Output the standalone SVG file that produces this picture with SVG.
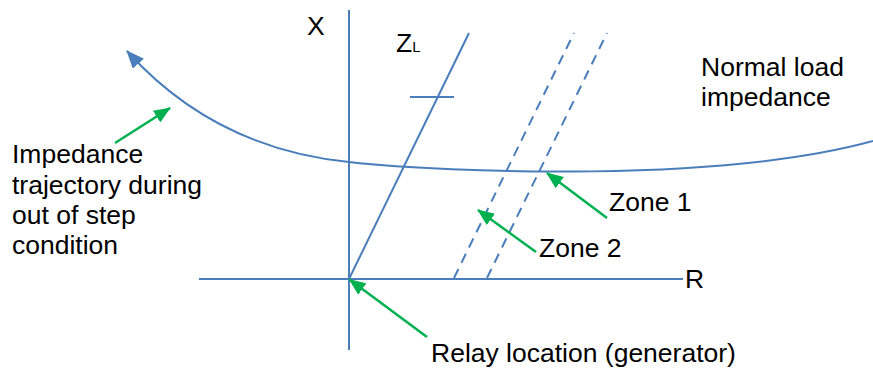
<svg xmlns="http://www.w3.org/2000/svg" width="873" height="370" viewBox="0 0 873 370">
<style>
.ax{stroke:#4A7EBB;stroke-width:2;fill:none}
.dash{stroke:#4A7EBB;stroke-width:2;fill:none;stroke-dasharray:10 7}
.g{stroke:#00B050;stroke-width:2.5;fill:none}
text{font-family:"Liberation Sans",Arial,sans-serif;font-size:26.5px;fill:#000}
</style>
<defs>
<marker id="bh" markerUnits="userSpaceOnUse" viewBox="0 0 18 15" refX="17" refY="7.5" markerWidth="18" markerHeight="15" orient="auto">
<path d="M0,0 L18,7.5 L0,15 z" fill="#4A7EBB"/>
</marker>
<marker id="gh" markerUnits="userSpaceOnUse" viewBox="0 0 17 14" refX="16" refY="7" markerWidth="17" markerHeight="14" orient="auto">
<path d="M0,0 L17,7 L0,14 z" fill="#00B050"/>
</marker>
</defs>
<g id="axes">
<line class="ax" x1="349" y1="10" x2="349" y2="350"/>
<line class="ax" x1="199" y1="279" x2="683" y2="279"/>
<text x="307" y="35">X</text>
<text x="685" y="288">R</text>
</g>
<g id="zl">
<line class="ax" x1="349" y1="279" x2="469" y2="33"/>
<line class="ax" x1="410" y1="97" x2="454" y2="97"/>
<text x="396" y="52" font-size="24">Z<tspan font-size="15">L</tspan></text>
</g>
<g id="zones">
<line class="dash" x1="454" y1="278" x2="574" y2="33"/>
<line class="dash" x1="487" y1="278" x2="607" y2="33"/>
</g>
<g id="trajectory">
<path class="ax" d="M873,141 C720,183 450,173 349,162 C250,152 180,110 127,51" marker-end="url(#bh)"/>
</g>
<g id="connectors">
<line class="g" x1="115" y1="143" x2="170" y2="108" marker-end="url(#gh)"/>
<line class="g" x1="607" y1="218" x2="547" y2="173" marker-end="url(#gh)"/>
<line class="g" x1="536" y1="252" x2="478" y2="210" marker-end="url(#gh)"/>
<line class="g" x1="427" y1="337" x2="349.5" y2="279.5" marker-end="url(#gh)"/>
</g>
<g id="label-trajectory">
<text x="12" y="163">Impedance</text>
<text x="12" y="194">trajectory during</text>
<text x="12" y="224">out of step</text>
<text x="12" y="254">condition</text>
</g>
<g id="label-load">
<text x="701" y="76">Normal load</text>
<text x="701" y="106">impedance</text>
</g>
<g id="label-zone1"><text x="609" y="211">Zone 1</text></g>
<g id="label-zone2"><text x="539" y="257">Zone 2</text></g>
<g id="label-relay"><text x="431" y="362">Relay location (generator)</text></g>
</svg>
